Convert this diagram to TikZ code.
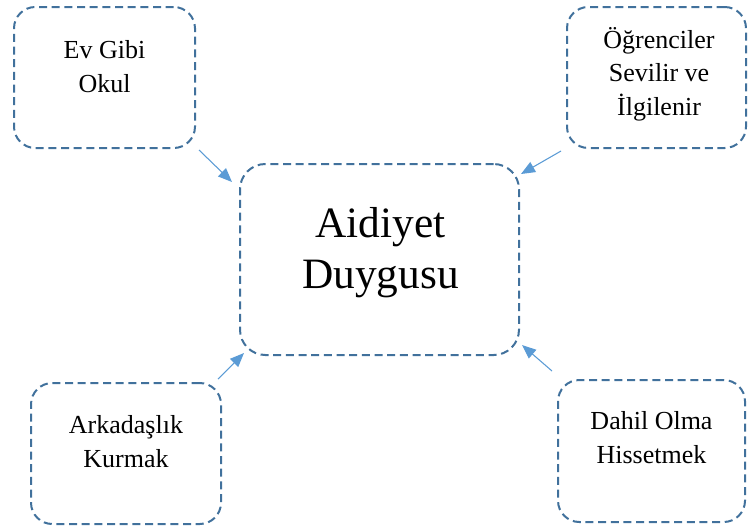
\documentclass[tikz,border=0pt]{standalone}
\usepackage{fontspec}
\setmainfont{Liberation Serif}
\usetikzlibrary{arrows.meta,fit}
\definecolor{boxline}{HTML}{41719C}
\definecolor{arrline}{HTML}{5B9BD5}
\tikzset{
  dbox/.style={draw=boxline, line width=1.5pt, dash pattern=on 6pt off 3.5pt,
               rounded corners=16pt, inner sep=0pt},
  smalltxt/.style={anchor=base, align=center, inner sep=0pt,
                   font=\fontsize{19.5pt}{25pt}\selectfont},
  bigtxt/.style={anchor=base, align=center, inner sep=0pt,
                 font=\fontsize{32.5pt}{38pt}\selectfont},
  arr/.style={draw=arrline, line width=0.8pt,
              -{Triangle[length=10.5pt,width=8.5pt]}}
}
\begin{document}
\begin{tikzpicture}[x=0.75pt,y=-0.75pt]
  \useasboundingbox (0,0) rectangle (748,529);

  % dashed rounded boxes
  \node[dbox, fit={(14,7) (195,148)}] (b1) {};
  \node[dbox, fit={(567,7) (746,148)}] (b2) {};
  \node[dbox, rounded corners=19pt, fit={(240,164) (519,355)}] (c) {};
  \node[dbox, fit={(31,383) (221,524)}] (b3) {};
  \node[dbox, fit={(558,380) (745,522)}] (b4) {};

  % labels, placed by the baseline of their last line
  \node[smalltxt] (t1) at (104.5,92) {Ev Gibi\\Okul};
  \node[smalltxt] (t2) at (659,115) {Öğrenciler\\Sevilir ve\\İlgilenir};
  \node[bigtxt]   (tc) at (380.5,288) {Aidiyet\\Duygusu};
  \node[smalltxt] (t3) at (126,467) {Arkadaşlık\\Kurmak};
  \node[smalltxt] (t4) at (651.5,463) {Dahil Olma\\Hissetmek};

  % arrows into the central box
  \draw[arr] ([shift={(3,1)}]b1.south east) -- ([shift={(-7,19)}]c.north west);
  \draw[arr] ([shift={(-5,2)}]b2.south west) -- ([shift={(1,11)}]c.north east);
  \draw[arr] ([shift={(-4,-3)}]b3.north east) -- ([shift={(5,-3)}]c.south west);
  \draw[arr] ([shift={(-5,-8)}]b4.north west) -- ([shift={(2,-11)}]c.south east);
\end{tikzpicture}
\end{document}
